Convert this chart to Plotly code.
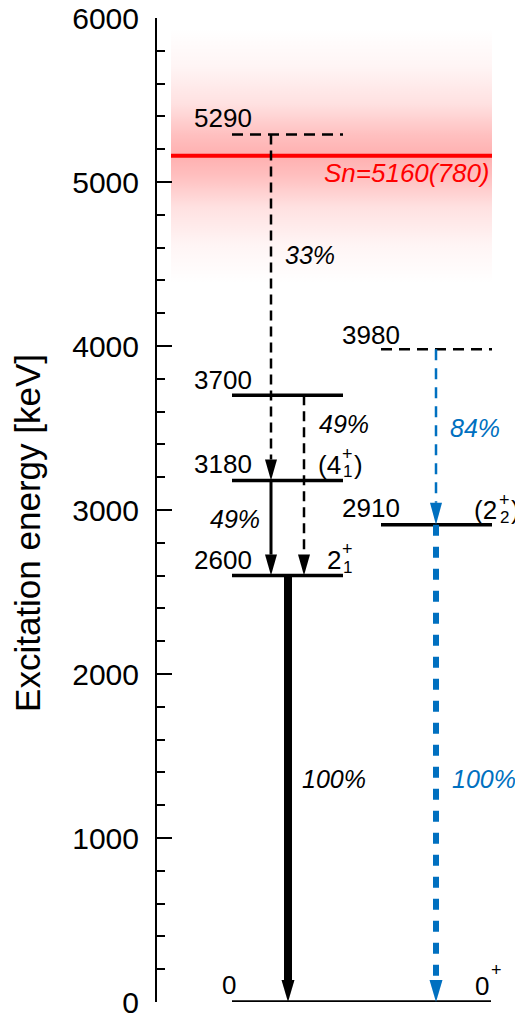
import plotly.graph_objects as go

# ---------------- data ----------------
level_energy = [0, 2600, 3180, 3700, 5290, 2910, 3980]   # keV
level_column = ["ground", "left", "left", "left", "left", "right", "right"]
level_dashed = [False, False, False, False, True, False, True]
level_label = ["0", "2600", "3180", "3700", "5290", "2910", "3980"]

trans_from = [5290, 3700, 3180, 2600, 3980, 2910]
trans_to = [3180, 2600, 2600, 0, 2910, 0]
trans_pct = ["33%", "49%", "49%", "100%", "84%", "100%"]

sn_value = 5160
sn_error = 780

y_ticks = [0, 1000, 2000, 3000, 4000, 5000, 6000]
y_title = "Excitation energy [keV]"

# ---------------- layout constants (x in page-pixel-like units) ----------------
FONT = "Liberation Sans, Arial, sans-serif"
BLUE = "#0070C0"
PX = 984 / 6000.0  # pixels per keV

col_x = {"ground": (232, 491), "left": (232, 343), "right": (381, 492)}
label_right = {"ground": 238, "left": 254, "right": 402}
label_shift = {0: 17, 2600: 16, 3180: 16.5, 3700: 15, 5290: 16, 2910: 17, 3980: 14}

# transition drawing styles
t_x = [271, 304, 271, 288, 436, 436]
t_color = ["black", "black", "black", "black", BLUE, BLUE]
t_width = [2.5, 2.5, 3, 8, 2.5, 6]
t_dash = ["10px,6px", "10px,6px", "solid", "solid", "11px,8px", "11px,11px"]
t_head_w = [12, 12, 12, 13, 12, 13]
t_head_h = [21, 21, 21, 22, 22, 22]
t_lab_x = [283, 317, 208, 300, 448, 450]
t_lab_y = [4555, 3524, 2945, 1360, 3500, 1360]

fig = go.Figure()

# Sn band with vertical gradient
band_x0, band_x1 = 171, 492
lo, hi = sn_value - sn_error, sn_value + sn_error
fig.add_trace(go.Scatter(
    x=[band_x0, band_x1, band_x1, band_x0, band_x0],
    y=[lo, lo, hi, hi, lo],
    mode="lines", line=dict(width=0), fill="toself",
    fillgradient=dict(
        type="vertical", start=lo, stop=hi,
        colorscale=[
            [0.0, "rgba(255,0,0,0.0)"],
            [0.15, "rgba(255,0,0,0.04)"],
            [0.3, "rgba(255,0,0,0.12)"],
            [0.42, "rgba(255,0,0,0.25)"],
            [0.5, "rgba(255,0,0,0.31)"],
            [0.58, "rgba(255,0,0,0.25)"],
            [0.7, "rgba(255,0,0,0.12)"],
            [0.85, "rgba(255,0,0,0.04)"],
            [1.0, "rgba(255,0,0,0.0)"],
        ]),
    hoverinfo="skip", showlegend=False))

# Sn line
fig.add_trace(go.Scatter(x=[band_x0, band_x1], y=[sn_value, sn_value], mode="lines",
                         line=dict(color="#ff0000", width=4), hoverinfo="skip", showlegend=False))

# levels
for e, col, dsh in zip(level_energy, level_column, level_dashed):
    x0, x1 = col_x[col]
    fig.add_trace(go.Scatter(
        x=[x0, x1], y=[e, e], mode="lines",
        line=dict(color="black", width=2.5 if dsh else 3.5, dash="11px,7px" if dsh else "solid"),
        hoverinfo="skip", showlegend=False))

annotations = []
shapes = []

# transitions
for i in range(len(trans_from)):
    e0, e1 = trans_from[i], trans_to[i]
    hh = t_head_h[i] / PX
    fig.add_trace(go.Scatter(
        x=[t_x[i], t_x[i]], y=[e0, e1 + hh], mode="lines",
        line=dict(color=t_color[i], width=t_width[i], dash=t_dash[i]),
        hoverinfo="skip", showlegend=False))
    hw = t_head_w[i] / 2.0
    shapes.append(dict(
        type="path", xref="x", yref="y", layer="above",
        path=f"M {t_x[i]-hw},{e1+hh} L {t_x[i]+hw},{e1+hh} L {t_x[i]},{e1} Z",
        fillcolor=t_color[i], line=dict(width=0)))
    annotations.append(dict(
        x=t_lab_x[i], y=t_lab_y[i], xref="x", yref="y", text="<i>" + trans_pct[i] + "</i>",
        showarrow=False, xanchor="left", yanchor="middle",
        font=dict(family=FONT, size=25, color=t_color[i])))

# level energy labels
for e, col, lab in zip(level_energy, level_column, level_label):
    annotations.append(dict(
        x=label_right[col], y=e, xref="x", yref="y", text=lab, showarrow=False,
        xanchor="right", yanchor="middle", yshift=label_shift[e],
        font=dict(family=FONT, size=26, color="black")))

# spin labels: (text, x, anchor, energy, yshift, size)
spin_parts = [
    ("(4", 342, "right", 3180, 15.5, 26),
    ("+", 341, "left", 3180, 26, 18),
    ("1", 342, "left", 3180, 8.5, 17),
    (")", 353, "left", 3180, 15.5, 26),
    ("2", 326, "left", 2600, 15.6, 26),
    ("+", 341, "left", 2600, 27, 18),
    ("1", 342, "left", 2600, 8, 17),
    ("(2", 498, "right", 2910, 14.5, 26),
    ("+", 498, "left", 2910, 25, 18),
    ("2", 499, "left", 2910, 7, 17),
    (")", 510, "left", 2910, 14.5, 26),
    ("0", 474, "left", 0, 16, 26),
    ("+", 490, "left", 0, 32, 18),
]
for txt, x, anc, e, ys, sz in spin_parts:
    annotations.append(dict(
        x=x, y=e, xref="x", yref="y", text=txt, showarrow=False,
        xanchor=anc, yanchor="middle", yshift=ys, borderpad=0,
        font=dict(family=FONT, size=sz, color="black")))

# Sn label
annotations.append(dict(
    x=band_x1, y=sn_value, xref="x", yref="y",
    text=f"<i>Sn={sn_value}({sn_error})</i>", showarrow=False,
    xanchor="right", yanchor="middle", yshift=-17,
    font=dict(family=FONT, size=26, color="#ff0000")))

# y-axis title (as rotated annotation so it can sit slightly below centre, like the original)
annotations.append(dict(
    x=0, y=2860, xref="paper", yref="y", xshift=-129, text=y_title, textangle=-90,
    showarrow=False, xanchor="center", yanchor="middle",
    font=dict(family=FONT, size=35, color="black")))

# page has an 8px body margin: figure is offset by 8px, so compensate
fig.update_layout(
    width=515, height=1008,
    margin=dict(l=149, r=0, t=10, b=14, autoexpand=False),
    plot_bgcolor="white", paper_bgcolor="white",
    showlegend=False,
    annotations=annotations, shapes=shapes,
    xaxis=dict(range=[157, 523], visible=False, fixedrange=True, automargin=False),
    yaxis=dict(
        range=[0, 6000], showline=True, linecolor="black", linewidth=2,
        showgrid=False, zeroline=False, automargin=False, fixedrange=True,
        ticks="inside", ticklen=15, tickwidth=2, tickcolor="black",
        tickvals=y_ticks,
        minor=dict(dtick=200, ticks="inside", ticklen=8, tickwidth=2, tickcolor="black", showgrid=False),
        tickfont=dict(family=FONT, size=30, color="black"),
        ticklabelstandoff=10, ticklabeloverflow="allow",
    ),
)

fig.write_html("out.html")
